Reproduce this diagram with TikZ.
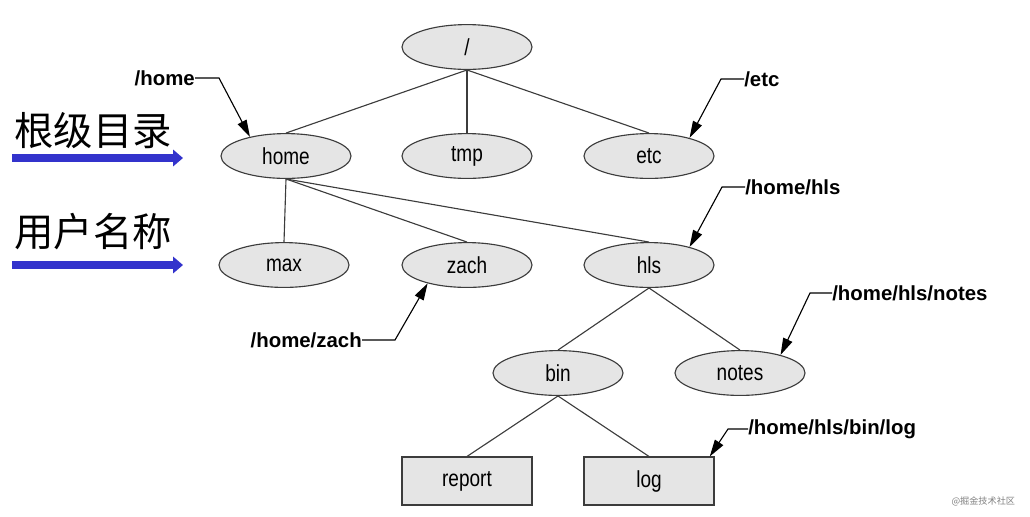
\documentclass[tikz,border=0pt]{standalone}
\usepackage{fontspec}
\setmainfont{Liberation Sans}
\newfontfamily\cjk{Noto Sans CJK SC}
\newfontfamily\treefont[FakeStretch=0.82]{Liberation Sans}
\usepackage{tikz}
\usetikzlibrary{shapes, arrows.meta, positioning}
\definecolor{NoteBlue}{RGB}{51, 51, 204}
\definecolor{DirFill}{RGB}{229, 229, 229}
\definecolor{DirLine}{RGB}{60, 60, 60}

\tikzset{
  dir/.style={ellipse, draw=DirLine, fill=DirFill, line width=0.8pt,
    minimum width=3.25cm, minimum height=1.12cm, inner sep=0pt,
    font=\treefont\fontsize{16.5}{17}\selectfont},
  file/.style={rectangle, draw=DirLine, fill=DirFill, line width=0.8pt,
    minimum width=3.25cm, minimum height=1.2cm, inner sep=0pt,
    font=\treefont\fontsize{16.5}{17}\selectfont},
  path label/.style={font=\bfseries\fontsize{14.5}{15}\selectfont, inner sep=0pt},
  edge/.style={draw=DirLine, line width=0.8pt},
  pointer/.style={draw=black, line width=0.8pt, -{Triangle[length=12pt,width=7pt]}},
  bigarrow/.style={draw=NoteBlue, line width=5.7pt, -{Triangle[length=7pt,width=11.5pt]}},
  cntext/.style={font=\cjk\fontsize{28}{29}\selectfont, anchor=west, inner sep=0pt}
}

\begin{document}
\begin{tikzpicture}[x=0.025cm, y=-0.025cm]
    \useasboundingbox (0,0) rectangle (1030,516);

    % Directory tree
    \node[dir] (root) at (467,47) {/};
    \node[dir] (home) at (286,156) {home};
    \node[dir] (tmp) at (467,156) {tmp};
    \node[dir] (etc) at (649,156) {etc};
    \node[dir] (max) at (284,265) {max};
    \node[dir] (zach) at (467,265) {zach};
    \node[dir] (hls) at (649,265) {hls};
    \node[dir] (bin) at (558,373) {bin};
    \node[dir] (notes) at (740,373) {notes};
    \node[file] (report) at (467,481) {report};
    \node[file] (log) at (649,481) {log};

    % Edges
    \draw[edge] (root.south) -- (home.north);
    \draw[edge] (root.south) -- (tmp.north);
    \draw[edge] (root.south) -- (etc.north);
    \draw[edge] (home.south) -- (max.north);
    \draw[edge] (home.south) -- (zach.north);
    \draw[edge] (home.south) -- (hls.north);
    \draw[edge] (hls.south) -- (bin.north);
    \draw[edge] (hls.south) -- (notes.north);
    \draw[edge] (bin.south) -- (report.north);
    \draw[edge] (bin.south) -- (log.north);

    % Path labels
    \node[path label, anchor=east] (lhome) at (195,78) {/home};
    \node[path label, anchor=west] (letc) at (744,79) {/etc};
    \node[path label, anchor=west] (lhls) at (745,187) {/home/hls};
    \node[path label, anchor=east] (lzach) at (362,340) {/home/zach};
    \node[path label, anchor=west] (lnotes) at (832,293) {/home/hls/notes};
    \node[path label, anchor=west] (llog) at (748,429) {/home/hls/bin/log};

    \draw[pointer] (lhome.east) -- ++(24,0) -- (home.152);
    \draw[pointer] (letc.west) -- ++(-23,0) -- (etc.24);
    \draw[pointer] (lhls.west) -- ++(-23,0) -- (hls.24);
    \draw[pointer] (lzach.east) -- ++(33,0) -- (zach.205);
    \draw[pointer] (lnotes.west) -- ++(-22,0) -- (notes.24);
    \draw[pointer] (llog.west) -- ++(-20,0) -- ([xshift=-0.12cm]log.north east);

    % Notes on the left
    \node[cntext] (root level) at (14,131) {根级目录};
    \node[cntext] (user name) at (14,232) {用户名称};
    \coordinate (a1s) at (12,158);
    \coordinate (a1e) at (183,158);
    \coordinate (a2s) at (12,265);
    \coordinate (a2e) at (183,265);
    \draw[bigarrow] (a1s) -- (a1e);
    \draw[bigarrow] (a2s) -- (a2e);

    \node[font=\cjk\fontsize{6.5}{7}\selectfont, text=gray, anchor=east] (mark) at (1020,501) {@掘金技术社区};
\end{tikzpicture}
\end{document}
